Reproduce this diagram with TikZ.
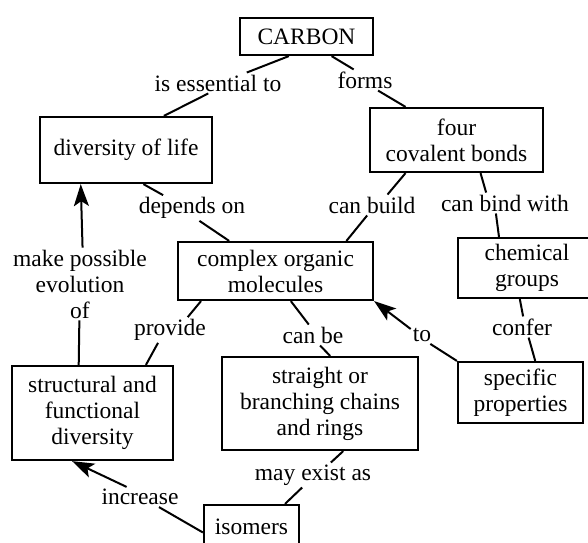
\documentclass[tikz,border=0pt]{standalone}
\usepackage{fontspec}
\setmainfont{Liberation Serif}
\usepackage{tikz}
\usetikzlibrary{arrows.meta}
\tikzset{
  concept/.style 2 args={draw, line width=2.2pt, align=center, inner sep=0pt,
              minimum width=#1, minimum height=#2},
  rel/.style={align=center, inner sep=2pt},
  link/.style={line width=2pt},
  flow/.style={-{Stealth[length=22pt,width=15pt,inset=5pt]}, line width=2pt}
}
\begin{document}
\begin{tikzpicture}[x=1pt,y=-1pt,font=\fontsize{23.5}{26}\selectfont]
\useasboundingbox[fill=white] (0,0) rectangle (588,542);
% concepts
\node[concept={133pt}{37pt}] (carbon) at (306.5,36.5) {CARBON};
\node[concept={172pt}{66pt}] (life) at (126,150) {diversity of life};
\node[concept={173pt}{64pt}] (bonds) at (456.5,140) {four\\ covalent bonds};
\node[concept={195pt}{58pt}] (complex) at (275.5,271) {complex organic\\ molecules};
\node[concept={138pt}{60pt}] (groups) at (527,268) {chemical\\ groups};
\node[concept={161pt}{94pt}] (struct) at (92.5,413) {structural and\\ functional\\ diversity};
\node[concept={196pt}{93pt}] (chains) at (320,403.5) {straight or\\ branching chains\\ and rings};
\node[concept={125pt}{61pt}] (props) at (520.5,392.5) {specific\\ properties};
\node[concept={95pt}{43pt}] (isomers) at (251.5,526.5) {isomers};
% linking phrases
\node[rel] (essential) at (218,83) {is essential to};
\node[rel] (forms) at (365,80) {forms};
\node[rel] (depends) at (192,208) {depends on};
\node[rel] (build) at (372,205) {can build};
\node[rel] (bind) at (505,203) {can bind with};
\node[rel] (evol) at (80,284) {make possible\\ evolution\\ of};
\node[rel] (provide) at (170,330) {provide};
\node[rel] (canbe) at (313,335) {can be};
\node[rel] (to) at (422,335) {to};
\node[rel] (confer) at (522,327) {confer};
\node[rel] (exist) at (313,475) {may exist as};
\node[rel] (increase) at (140,497) {increase};
% connectors
\draw[link] (carbon.228) -- (essential.20);
\draw[link] (essential.227) -- (life.42);
\draw[link] (carbon.322) -- (forms.137);
\draw[link] (forms.321) -- (bonds.147);
\draw[link] (life.297) -- (depends.156);
\draw[link] (depends.300) -- (complex.147);
\draw[link] (bonds.213) -- (build.34);
\draw[link] (build.245) -- (complex.23);
\draw[link] (bonds.306) -- (bind.151);
\draw[link] (bind.229) -- (groups.132);
\draw[link] (groups.257) -- (confer.84);
\draw[link] (confer.302) -- (props.65);
\draw[link] (complex.202) -- (provide.36);
\draw[link] (provide.227) -- (struct.42);
\draw[link] (complex.297) -- (canbe.112);
\draw[link] (canbe.304) -- (chains.78);
\draw[link] (props.north west) -- (to.313);
\draw[flow] (to.152) -- (complex.south east);
\draw[link] (chains.296) -- (exist.35);
\draw[link] (exist.229) -- (isomers.34);
\draw[link] (isomers.187) -- (increase.332);
\draw[flow] (increase.143) -- (struct.247);
\draw[link] (struct.106) -- (evol.269);
\draw[flow] (evol.86) -- (life.217);
\end{tikzpicture}
\end{document}
